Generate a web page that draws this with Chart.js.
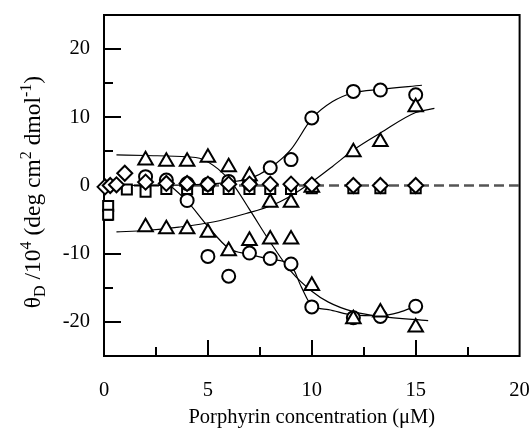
<!DOCTYPE html>
<html>
<head>
<meta charset="utf-8">
<script src="https://cdn.jsdelivr.net/npm/chart.js@4/dist/chart.umd.min.js"></script>
<style>
  html, body { margin: 0; padding: 0; background: #fff; }
</style>
</head>
<body>
<canvas id="cdChart" width="530" height="430"></canvas>
<script>
// axis ticks
const xTicks = [0, 5, 10, 15, 20];
const xMinor = [2.5, 7.5, 12.5, 17.5];
const yTicks = [-20, -10, 0, 10, 20];
const yMinor = [-15, -5, 5, 15];

// open circles, band going up
const circUpX = [2, 3, 4, 5, 6, 7, 8, 9, 10, 12, 13.3, 15];
const circUpY = [1.3, 0.8, 0.3, 0.2, 0.6, 0.3, 2.6, 3.8, 9.9, 13.8, 14.0, 13.3];
// open circles, band going down
const circDnX = [4, 5, 6, 7, 8, 9, 10, 12, 13.3, 15];
const circDnY = [-2.2, -10.4, -13.3, -9.9, -10.7, -11.5, -17.8, -19.4, -19.2, -17.7];
// triangles starting positive
const triAX = [2, 3, 4, 5, 6, 7, 8, 9, 10, 12, 13.3, 15];
const triAY = [3.7, 3.5, 3.5, 4.1, 2.7, 1.4, -7.9, -7.9, -14.7, -19.6, -18.6, -20.8];
// triangles starting negative
const triBX = [2, 3, 4, 5, 6, 7, 8, 9, 10, 12, 13.3, 15];
const triBY = [-6.1, -6.4, -6.4, -6.9, -9.6, -8.1, -2.5, -2.5, -0.3, 4.9, 6.4, 11.5];
// squares (control)
const sqX = [0.2, 0.2, 1.1, 2, 3, 4, 5, 6, 7, 8, 9, 10, 12, 13.3, 15];
const sqY = [-3.0, -4.3, -0.6, -0.9, -0.5, -0.5, -0.5, -0.5, -0.5, -0.5, -0.5, -0.4, -0.4, -0.4, -0.4];
// diamonds (control)
const dmX = [0.05, 0.3, 0.6, 1.0, 2, 3, 4, 5, 6, 7, 8, 9, 10, 12, 13.3, 15];
const dmY = [-0.2, 0.0, 0.1, 1.8, 0.5, 0.3, 0.3, 0.2, 0.2, 0.2, 0.2, 0.2, 0.1, 0.0, 0.0, 0.0];

// fitted curves
const fitC1X = [0.5, 4, 5, 6, 7, 8, 9, 10, 11, 12, 13.3, 15.3];
const fitC1Y = [0, 0.1, 0.2, 0.5, 1.0, 2.6, 5.3, 9.8, 12.3, 13.6, 14.1, 14.7];
const fitC2X = [3, 4, 5, 6, 7, 8, 9, 9.5, 10, 10.8, 12, 13.3, 14.2, 15];
const fitC2Y = [0.5, -2.3, -6.0, -9.2, -10.1, -10.8, -11.7, -14.9, -17.6, -18.2, -19.0, -19.1, -18.6, -17.7];
const fitTAX = [0.6, 2, 4, 4.6, 5.5, 6.2, 7, 8, 9, 10, 10.8, 12, 13.3, 15.6];
const fitTAY = [4.5, 4.4, 4.2, 4.0, 2.4, 0.2, -3.5, -8.3, -12.6, -15.5, -17.1, -18.5, -19.2, -19.8];
const fitTBX = [0.6, 2, 3.6, 5.25, 6.84, 8.1, 8.9, 10, 11, 12, 13.3, 15, 15.9];
const fitTBY = [-6.8, -6.6, -6.1, -5.35, -4.1, -2.9, -1.7, 0.5, 2.8, 5.2, 7.7, 10.7, 11.3];
// zero reference line
const zeroX = [0, 20];
const zeroY = [0, 0];

const serif = "'Liberation Serif', 'Times New Roman', serif";

function pts(xs, ys) {
  return xs.map((x, i) => ({ x: x, y: ys[i] }));
}

function markers(label, xs, ys, style, r, order) {
  return {
    label: label,
    data: pts(xs, ys),
    pointStyle: style,
    pointRadius: r,
    pointHoverRadius: r,
    pointBorderWidth: 2,
    pointBorderColor: "#000",
    pointBackgroundColor: "#fff",
    showLine: false,
    clip: false,
    order: order
  };
}

function curve(label, xs, ys) {
  return {
    label: label,
    data: pts(xs, ys),
    showLine: true,
    pointRadius: 0,
    borderColor: "#000",
    borderWidth: 1.2,
    cubicInterpolationMode: "monotone",
    fill: false,
    order: 20
  };
}

// frame, inward ticks and axis titles
const decor = {
  id: "decor",
  beforeDatasetsDraw(chart) {
    const ctx = chart.ctx;
    const a = chart.chartArea;
    const xs = chart.scales.x, ys = chart.scales.y;
    ctx.save();
    ctx.strokeStyle = "#000";
    ctx.lineWidth = 2;
    ctx.strokeRect(a.left, a.top, a.right - a.left, a.bottom - a.top);
    ctx.beginPath();
    xTicks.slice(1, -1).forEach(v => {
      const p = Math.round(xs.getPixelForValue(v));
      ctx.moveTo(p, a.bottom); ctx.lineTo(p, a.bottom - 16);
    });
    xMinor.forEach(v => {
      const p = Math.round(xs.getPixelForValue(v));
      ctx.moveTo(p, a.bottom); ctx.lineTo(p, a.bottom - 9);
    });
    yTicks.forEach(v => {
      const p = Math.round(ys.getPixelForValue(v));
      ctx.moveTo(a.left, p); ctx.lineTo(a.left + 17, p);
    });
    yMinor.forEach(v => {
      const p = Math.round(ys.getPixelForValue(v));
      ctx.moveTo(a.left, p); ctx.lineTo(a.left + 9, p);
    });
    ctx.stroke();
    ctx.restore();
  },
  afterDraw(chart) {
    const ctx = chart.ctx;
    const a = chart.chartArea;
    ctx.save();
    ctx.fillStyle = "#000";
    ctx.textBaseline = "alphabetic";
    ctx.textAlign = "center";
    ctx.font = "20.5px " + serif;
    ctx.fillText("Porphyrin concentration (\u03bcM)", (a.left + a.right) / 2, 423);

    // y title with sub/superscripts
    const big = "23.5px " + serif, small = "16px " + serif;
    const parts = [
      ["\u03b8", big, 0], ["D", small, 5], [" /10", big, 0], ["4", small, -9],
      [" (deg cm", big, 0], ["2", small, -9], [" dmol", big, 0], ["-1", small, -9], [")", big, 0]
    ];
    ctx.textAlign = "left";
    let total = 0;
    parts.forEach(p => { ctx.font = p[1]; total += ctx.measureText(p[0]).width; });
    ctx.translate(40, 192);
    ctx.rotate(-Math.PI / 2);
    let x = -total / 2;
    parts.forEach(p => {
      ctx.font = p[1];
      ctx.fillText(p[0], x, p[2]);
      x += ctx.measureText(p[0]).width;
    });
    ctx.restore();
  }
};

new Chart(document.getElementById("cdChart"), {
  type: "scatter",
  data: {
    datasets: [
      markers("diamond", dmX, dmY, "rectRot", 7.5, 1),
      markers("triangle A", triAX, triAY, "triangle", 8.4, 2),
      markers("triangle B", triBX, triBY, "triangle", 8.4, 2),
      markers("circle up", circUpX, circUpY, "circle", 6.5, 3),
      markers("circle down", circDnX, circDnY, "circle", 6.5, 3),
      markers("square", sqX, sqY, "rect", 7.1, 4),
      curve("fit circle up", fitC1X, fitC1Y),
      curve("fit circle down", fitC2X, fitC2Y),
      curve("fit triangle A", fitTAX, fitTAY),
      curve("fit triangle B", fitTBX, fitTBY),
      {
        label: "zero",
        data: pts(zeroX, zeroY),
        showLine: true,
        pointRadius: 0,
        borderColor: "#555",
        borderWidth: 2.5,
        borderDash: [10, 5],
        order: 30
      }
    ]
  },
  options: {
    responsive: false,
    animation: false,
    devicePixelRatio: 1,
    events: [],
    layout: { padding: { left: 0, right: 9, top: 15, bottom: 0 } },
    plugins: {
      legend: { display: false },
      tooltip: { enabled: false }
    },
    scales: {
      x: {
        type: "linear",
        min: 0,
        max: 20,
        grid: { display: false, drawTicks: false },
        border: { display: false },
        ticks: { color: "#000", padding: 22, font: { family: serif, size: 20.5 } },
        afterBuildTicks: s => { s.ticks = xTicks.map(v => ({ value: v })); },
        afterFit: s => {
          s.height = 74;
          s.paddingLeft = 0; s.paddingRight = 0;
        }
      },
      y: {
        type: "linear",
        min: -25,
        max: 25,
        grid: { display: false, drawTicks: false },
        border: { display: false },
        ticks: { color: "#000", padding: 14, font: { family: serif, size: 20.5 } },
        afterBuildTicks: s => { s.ticks = yTicks.map(v => ({ value: v })); },
        afterFit: s => {
          s.width = 104;
          s.paddingTop = 0; s.paddingBottom = 0;
        }
      }
    }
  },
  plugins: [decor]
});
</script>
</body>
</html>
